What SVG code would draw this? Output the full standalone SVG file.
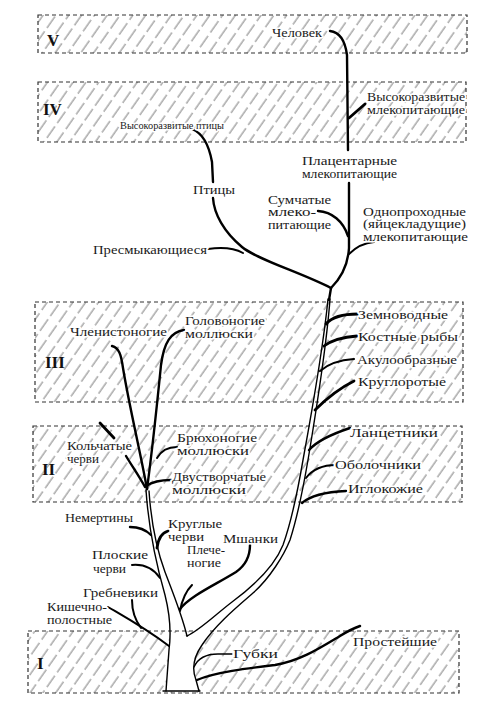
<svg xmlns="http://www.w3.org/2000/svg" width="494" height="714" viewBox="0 0 494 714">
<defs>
<pattern id="hatch" width="10.5" height="18" patternUnits="userSpaceOnUse" patternTransform="rotate(35)">
<line x1="2" y1="0" x2="2" y2="14" stroke="#6a6a6a" stroke-width="0.9"/>
</pattern>
</defs>
<style>
.band{fill:url(#hatch);stroke:#333;stroke-width:1.2;stroke-dasharray:4 3}
.num{font-family:"Liberation Serif",serif;font-weight:bold;font-size:17px;fill:#111}
.lbl{font-family:"Liberation Serif",serif;font-size:11.5px;fill:#1a1a1a;stroke:#fff;stroke-width:3;paint-order:stroke;stroke-linejoin:round}
.sm{font-size:10.5px}
.br{fill:none;stroke:#000;stroke-linecap:round;stroke-linejoin:round}
.w1{stroke-width:1.4}
.w2{stroke-width:2}
.w3{stroke-width:2.4}
.w4{stroke-width:2.8}
</style>
<rect width="494" height="714" fill="#fff"/>
<g id="bands">
<rect class="band" x="38" y="15" width="429" height="38"/>
<rect class="band" x="38" y="82" width="428" height="60"/>
<rect class="band" x="35" y="302" width="428" height="100"/>
<rect class="band" x="33" y="426" width="429" height="76"/>
<rect class="band" x="28" y="631" width="431" height="62"/>
<text class="num" x="47" y="46">V</text>
<text class="num" x="43" y="115">IV</text>
<text class="num" x="45" y="368">III</text>
<text class="num" x="42" y="475">II</text>
<text class="num" x="37" y="669">I</text>
</g>
<g id="connectors">
<polygon points="166,691 169,650 171,632 187,636 215,621 202,645 193,660 196,680 199,691" fill="#fff"/>
<path class="br w3" d="M330,31 C339,32 345,40 347,55 L348,150"/>
<path class="br w4" d="M349,118 L365,104"/>
<path class="br w3" d="M349,183 L349,248 C348,265 341,278 331,288"/>
<path class="br w2" d="M349,254 C355,248 363,243 374,242"/>
<path class="br w3" d="M318,211 C332,212 343,221 348,236"/>
<path class="br w3" d="M192,129 C202,133 209,145 212,162 L213,182"/>
<path class="br w3" d="M213,198 C214,214 224,232 242,247 C258,260 300,272 331,288"/>
<path class="br w2" d="M208,249 C222,247 234,248 243,253"/>
<path class="br w3" d="M331,288 L329,300"/>
<path class="br w1" d="M328,299 C324,340 314,400 303,460 C297,495 292,520 283,545 C275,565 255,585 232,602 C215,615 200,630 187,636"/>
<path class="br w1" d="M330,299 C327,340 318,400 308,460 C302,495 298,515 290,540 C284,555 270,578 253,593 C238,606 215,625 202,645 C193,658 192,670 196,680 L199,691"/>
<path class="br w4" d="M326,324 C332,317 342,314 358,314"/>
<path class="br w4" d="M324,346 C332,340 344,337 357,336"/>
<path class="br w2" d="M320,371 C328,364 340,360 354,359"/>
<path class="br w4" d="M315,410 C325,400 340,388 354,381"/>
<path class="br w3" d="M309,450 C316,442 332,434 350,428"/>
<path class="br w2" d="M306,478 C312,470 322,465 336,465"/>
<path class="br w3" d="M302,503 C310,496 325,492 346,491"/>
<path class="br w1" d="M146,490 C148,520 155,560 165,595 C170,615 171,635 169,650 L166,691"/>
<path class="br w1" d="M149,491 C151,520 155,545 165,572 C173,593 182,615 187,636"/>
<path class="br w1" d="M163,691 L200,691"/>
<path class="br w3" d="M147,489 C141,455 129,405 123,368 C121,354 119,348 112,346"/>
<path class="br w3" d="M147,489 C152,452 157,405 161,365 C164,342 171,332 184,330"/>
<path class="br w2" d="M157,458 C161,451 167,447 177,447"/>
<path class="br w3" d="M146,486 C152,482 160,480 171,480"/>
<path class="br w4" d="M100,423 L114,438"/>
<path class="br w3" d="M126,456 C132,466 139,476 145,487"/>
<path class="br w3" d="M130,527 C140,527 146,530 151,535"/>
<path class="br w4" d="M157,548 C158,540 161,533 168,531"/>
<path class="br w2" d="M132,565 C143,564 153,568 160,578"/>
<path class="br w2" d="M108,607 C125,617 145,628 169,646"/>
<path class="br w2" d="M132,600 C132,612 135,620 141,628"/>
<path class="br w2" d="M180,611 C182,600 186,591 192,585"/>
<path class="br w3" d="M180,609 C190,596 215,585 236,572 C246,565 250,556 250,545"/>
<path class="br w1" d="M194,667 C198,658 205,654 218,654 L232,654"/>
<path class="br w3" d="M197,680 C215,672 250,668 275,665 C300,661 320,648 340,636 C348,631 354,628 360,626"/>
</g>
<g id="labels">
<g id="n-chelovek"><text class="lbl" x="272" y="37" textLength="50" lengthAdjust="spacingAndGlyphs">Человек</text></g>
<g id="n-vys-mlek"><text class="lbl" x="367" y="101" textLength="98" lengthAdjust="spacingAndGlyphs">Высокоразвитые</text><text class="lbl" x="367" y="114" textLength="98" lengthAdjust="spacingAndGlyphs">млекопитающие</text></g>
<g id="n-vys-ptitsy"><text class="lbl sm" x="120" y="129" textLength="104" lengthAdjust="spacingAndGlyphs">Высокоразвитые птицы</text></g>
<g id="n-ptitsy"><text class="lbl" x="193" y="194" textLength="42" lengthAdjust="spacingAndGlyphs">Птицы</text></g>
<g id="n-platsent"><text class="lbl" x="302" y="165" textLength="95" lengthAdjust="spacingAndGlyphs">Плацентарные</text><text class="lbl" x="302" y="178" textLength="95" lengthAdjust="spacingAndGlyphs">млекопитающие</text></g>
<g id="n-sumch"><text class="lbl" x="268" y="203.5" textLength="63" lengthAdjust="spacingAndGlyphs">Сумчатые</text><text class="lbl" x="268" y="216" textLength="48" lengthAdjust="spacingAndGlyphs">млеко-</text><text class="lbl" x="268" y="228.5" textLength="63" lengthAdjust="spacingAndGlyphs">питающие</text></g>
<g id="n-odnoprokh"><text class="lbl" x="363" y="215.5" textLength="103" lengthAdjust="spacingAndGlyphs">Однопроходные</text><text class="lbl" x="363" y="228" textLength="103" lengthAdjust="spacingAndGlyphs">(яйцекладущие)</text><text class="lbl" x="363" y="240.5" textLength="105" lengthAdjust="spacingAndGlyphs">млекопитающие</text></g>
<g id="n-presm"><text class="lbl" x="93" y="254" textLength="114" lengthAdjust="spacingAndGlyphs">Пресмыкающиеся</text></g>
<g id="n-zemnov"><text class="lbl" x="358" y="319" textLength="90" lengthAdjust="spacingAndGlyphs">Земноводные</text></g>
<g id="n-kostn"><text class="lbl" x="358" y="341" textLength="100" lengthAdjust="spacingAndGlyphs">Костные рыбы</text></g>
<g id="n-akul"><text class="lbl" x="357" y="364" textLength="100" lengthAdjust="spacingAndGlyphs">Акулообразные</text></g>
<g id="n-krugl"><text class="lbl" x="358" y="386" textLength="88" lengthAdjust="spacingAndGlyphs">Круглоротые</text></g>
<g id="n-lants"><text class="lbl" x="350" y="437" textLength="88" lengthAdjust="spacingAndGlyphs">Ланцетники</text></g>
<g id="n-obol"><text class="lbl" x="335" y="469" textLength="86" lengthAdjust="spacingAndGlyphs">Оболочники</text></g>
<g id="n-iglok"><text class="lbl" x="348" y="493" textLength="75" lengthAdjust="spacingAndGlyphs">Иглокожие</text></g>
<g id="n-chlen"><text class="lbl" x="70" y="336" textLength="97" lengthAdjust="spacingAndGlyphs">Членистоногие</text></g>
<g id="n-golov"><text class="lbl" x="185" y="325" textLength="80" lengthAdjust="spacingAndGlyphs">Головоногие</text><text class="lbl" x="185" y="338" textLength="68" lengthAdjust="spacingAndGlyphs">моллюски</text></g>
<g id="n-kolch"><text class="lbl" x="67" y="450" textLength="65" lengthAdjust="spacingAndGlyphs">Кольчатые</text><text class="lbl" x="67" y="463" textLength="32" lengthAdjust="spacingAndGlyphs">черви</text></g>
<g id="n-bryukh"><text class="lbl" x="177" y="442" textLength="80" lengthAdjust="spacingAndGlyphs">Брюхоногие</text><text class="lbl" x="177" y="455" textLength="72" lengthAdjust="spacingAndGlyphs">моллюски</text></g>
<g id="n-dvustv"><text class="lbl" x="172" y="481" textLength="94" lengthAdjust="spacingAndGlyphs">Двустворчатые</text><text class="lbl" x="172" y="494" textLength="74" lengthAdjust="spacingAndGlyphs">моллюски</text></g>
<g id="n-nemert"><text class="lbl" x="65" y="522" textLength="68" lengthAdjust="spacingAndGlyphs">Немертины</text></g>
<g id="n-kruglye"><text class="lbl" x="168" y="528" textLength="54" lengthAdjust="spacingAndGlyphs">Круглые</text><text class="lbl" x="168" y="541" textLength="36" lengthAdjust="spacingAndGlyphs">черви</text></g>
<g id="n-mshanki"><text class="lbl" x="223" y="543" textLength="55" lengthAdjust="spacingAndGlyphs">Мшанки</text></g>
<g id="n-plech"><text class="lbl" x="187" y="554" textLength="38" lengthAdjust="spacingAndGlyphs">Плече-</text><text class="lbl" x="187" y="566.5" textLength="34" lengthAdjust="spacingAndGlyphs">ногие</text></g>
<g id="n-ploskie"><text class="lbl" x="92" y="559" textLength="56" lengthAdjust="spacingAndGlyphs">Плоские</text><text class="lbl" x="93" y="572.5" textLength="33" lengthAdjust="spacingAndGlyphs">черви</text></g>
<g id="n-grebn"><text class="lbl" x="83" y="597" textLength="75" lengthAdjust="spacingAndGlyphs">Гребневики</text></g>
<g id="n-kishech"><text class="lbl" x="47" y="611" textLength="60" lengthAdjust="spacingAndGlyphs">Кишечно-</text><text class="lbl" x="47" y="624" textLength="65" lengthAdjust="spacingAndGlyphs">полостные</text></g>
<g id="n-gubki"><text class="lbl" x="233" y="658" textLength="45" lengthAdjust="spacingAndGlyphs">Губки</text></g>
<g id="n-prost"><text class="lbl" x="353" y="646" textLength="84" lengthAdjust="spacingAndGlyphs">Простейшие</text></g>
</g>
</svg>
